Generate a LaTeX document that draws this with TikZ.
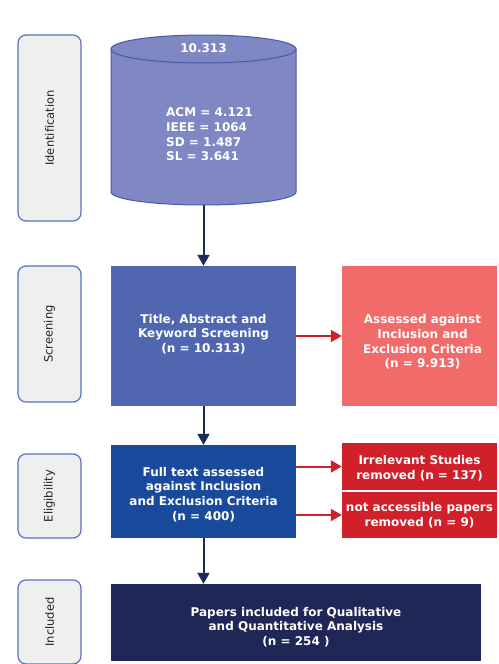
\documentclass[tikz,border=0pt]{standalone}
\usepackage{fontspec}
\setmainfont{DejaVu Sans}
\usetikzlibrary{arrows.meta}
\definecolor{cylfill}{HTML}{8088C4}
\definecolor{cylline}{HTML}{4658AC}
\definecolor{scrfill}{HTML}{5166B0}
\definecolor{pinkfill}{HTML}{F16B6B}
\definecolor{elifill}{HTML}{1A4A9C}
\definecolor{redfill}{HTML}{D0202A}
\definecolor{incfill}{HTML}{1F2757}
\definecolor{navyarrow}{HTML}{1E2A5E}
\definecolor{labline}{HTML}{5B70C4}
\definecolor{labfill}{HTML}{EFEFEF}
\definecolor{labtext}{HTML}{222222}
\tikzset{
  stagelabel/.style={draw=labline, line width=1.2pt, fill=labfill, rounded corners=8pt,
    minimum width=63pt, inner sep=0pt},
  labtext/.style={rotate=90, text=labtext, font=\fontsize{11.5}{13}\selectfont, inner sep=0pt},
  procbox/.style={inner sep=0pt},
  boxtext/.style={inner sep=0pt, text=white, align=center,
    font=\bfseries\fontsize{12}{14.7}\selectfont},
  navyarr/.style={draw=navyarrow, line width=2pt, -{Triangle[length=11pt,width=12pt]}},
  redarr/.style={draw=redfill, line width=2pt, -{Triangle[length=11pt,width=12pt]}},
  cyltext/.style={text=white, inner sep=0pt, font=\bfseries\fontsize{12}{14.7}\selectfont}
}
\begin{document}
\begin{tikzpicture}[x=1pt,y=-1pt]
\useasboundingbox (0,0) rectangle (498,664);
\clip (0,0) rectangle (498,664);
\fill[white] (0,0) rectangle (498,664);

% stage labels
\node[stagelabel, minimum height=186pt] (lid) at (49.5,128) {};
\node[labtext] (tid) at (lid.center) {Identification};
\node[stagelabel, minimum height=136pt] (lsc) at (49.5,334) {};
\node[labtext] (tsc) at (lsc.center) {Screening};
\node[stagelabel, minimum height=84pt] (lel) at (49.5,496) {};
\node[labtext] (tel) at (lel.center) {Eligibility};
\node[stagelabel, minimum height=84pt] (lin) at (49.5,622) {};
\node[labtext] (tin) at (lin.center) {Included};

% cylinder
\fill[cylfill] (111,49) -- (111,192) arc[start angle=180,end angle=360,x radius=92.5pt,y radius=13pt] -- (296,49) -- cycle;
\draw[cylline, line width=1pt] (111,49) -- (111,192) arc[start angle=180,end angle=360,x radius=92.5pt,y radius=13pt] -- (296,49);
\filldraw[fill=cylfill, draw=cylline, line width=1pt] (203.5,49) ellipse[x radius=92.5pt, y radius=14pt];
\node[minimum width=185pt, minimum height=170pt, inner sep=0pt] (db) at (203.5,120) {};
\node[cyltext] (dbtop) at (203.5,48.5) {10.313};
\node[cyltext, anchor=west, align=left] (dblist) at (166,134.5) {ACM = 4.121\\IEEE = 1064\\SD = 1.487\\SL = 3.641};

% boxes
\node[procbox, fill=scrfill, minimum width=185pt, minimum height=140pt] (scr) at (203.5,336) {};
\node[boxtext] (scrt) at ([yshift=2pt]scr.center) {Title, Abstract and\\Keyword Screening\\(n = 10.313)};
\node[procbox, fill=pinkfill, minimum width=155pt, minimum height=140pt] (ass) at (419.5,336) {};
\node[boxtext] (asst) at ([xshift=3pt,yshift=-6pt]ass.center) {Assessed against\\Inclusion and\\Exclusion Criteria\\(n = 9.913)};
\node[procbox, fill=elifill, minimum width=185pt, minimum height=93pt] (full) at (203.5,491.5) {};
\node[boxtext] (fullt) at ([yshift=-3pt]full.center) {Full text assessed\\against Inclusion\\and Exclusion Criteria\\(n = 400)};
\node[procbox, fill=redfill, minimum width=155pt, minimum height=47pt] (irr) at (419.5,466.5) {};
\node[boxtext] (irrt) at ([yshift=-1.5pt]irr.center) {Irrelevant Studies\\removed (n = 137)};
\node[procbox, fill=redfill, minimum width=155pt, minimum height=46pt] (nacc) at (419.5,515) {};
\node[boxtext] (nacct) at ([yshift=-0.5pt]nacc.center) {not accessible papers\\removed (n = 9)};
\node[procbox, fill=incfill, minimum width=370pt, minimum height=77pt] (inc) at (296,622.5) {};
\node[boxtext] (inct) at ([yshift=-4.5pt]inc.center) {Papers included for Qualitative\\and Quantitative Analysis\\(n = 254 )};

% arrows
\draw[navyarr] (db.south) -- (scr.north);
\draw[navyarr] (scr.south) -- (full.north);
\draw[navyarr] (full.south) -- (full.south |- inc.north);
\draw[redarr] (scr.east) -- (ass.west);
\draw[redarr] (full.east |- irr.west) -- (irr.west);
\draw[redarr] (full.east |- nacc.west) -- (nacc.west);
\end{tikzpicture}
\end{document}
